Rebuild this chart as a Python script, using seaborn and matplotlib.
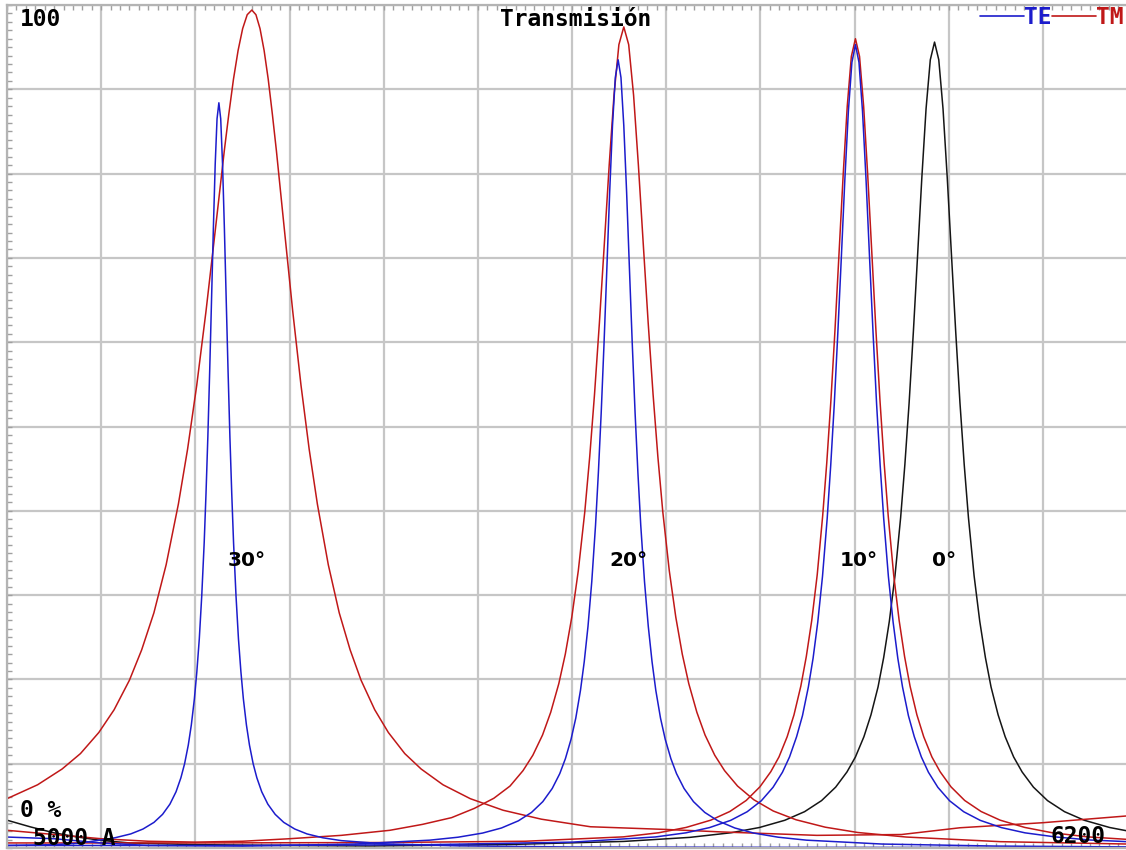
import matplotlib
matplotlib.use("Agg")
import matplotlib.pyplot as plt
import seaborn as sns
import pandas as pd
from matplotlib.ticker import MultipleLocator
from matplotlib.lines import Line2D
from matplotlib.font_manager import FontProperties

# ---------------- data (wavelength in Angstrom, transmission in %) ----------------
wl_30_te = [5000, 5050, 5075, 5095, 5114.5, 5131.4, 5144.4, 5156.1, 5165.2, 5173, 5179.5, 5184.7,
            5188.6, 5192.5, 5195.75, 5199, 5201.6, 5204.2, 5206.8, 5209.4, 5211.35, 5213.3,
            5215.25, 5217.2, 5219.15, 5221.1, 5223.05,
            5225,
            5226.95, 5228.9, 5230.85, 5232.8, 5234.75, 5236.7, 5238.65, 5240.6, 5243.2, 5245.8,
            5248.4, 5251, 5254.25, 5257.5, 5261.4, 5265.3, 5270.5, 5277, 5284.8, 5293.9, 5305.6,
            5318.6, 5335.5, 5355, 5400, 5480, 5600, 5800, 6200]
t_30_te = [0.3, 0.4, 0.55, 0.875, 1.21, 1.67, 2.25, 3.04, 3.99, 5.20, 6.67, 8.34,
           10.0, 12.2, 14.6, 17.7, 20.9, 24.8, 29.9, 36.2, 42.1, 48.8,
           56.6, 65.0, 73.5, 81.1, 86.5,
           88.4,
           86.5, 81.1, 73.5, 65.0, 56.6, 48.8, 42.1, 36.2, 29.9, 24.8,
           20.9, 17.7, 14.6, 12.2, 10.0, 8.34, 6.67, 5.20, 3.99, 3.04, 2.25,
           1.67, 1.21, 0.875, 0.5, 0.25, 0.12, 0.08, 0.05]

wl_30_tm = [5000, 5032.5, 5058.5, 5078, 5097.5, 5113.75, 5130, 5143, 5156, 5169, 5182, 5191.75,
            5201.5, 5211.25, 5221, 5230.75, 5235.6, 5240.5, 5245.4, 5250.25, 5255.1,
            5260,
            5264.35, 5268.7, 5273.05, 5277.4, 5281.75, 5286.1, 5294.8, 5303.5, 5312.2, 5320.9,
            5329.6, 5341.2, 5352.8,
            5364.4, 5376, 5390.5, 5405, 5422.4, 5439.8, 5463, 5492, 5526.8, 5567.4, 5619.6,
            5700, 5760, 5860, 5950, 6012, 6100, 6200]
t_30_tm = [5.85, 7.50, 9.37, 11.2, 13.7, 16.4, 19.9, 23.5, 27.9, 33.6, 40.8, 47.3,
           54.9, 63.6, 73.1, 82.7, 87.1, 91.2, 94.6, 97.2, 98.85,
           99.4,
           98.85, 97.2, 94.6, 91.2, 87.1, 82.7, 73.1, 63.6, 54.9, 47.3,
           40.8, 33.6, 27.9,
           23.5, 19.9, 16.4, 13.7, 11.2, 9.37, 7.50, 5.85, 4.48, 3.42, 2.52,
           2.2, 1.9, 1.5, 1.6, 2.4, 3.0, 3.9]

wl_20_te = [5000, 5050, 5100, 5150, 5250, 5369,
            5449, 5479, 5505, 5525, 5543, 5557, 5569, 5579, 5587, 5593, 5599, 5604, 5609, 5613,
            5617, 5621, 5625, 5628, 5631, 5634, 5637, 5640, 5643, 5646,
            5649,
            5652, 5655, 5658, 5661, 5664, 5667, 5670, 5673, 5677, 5681, 5685, 5689, 5694, 5699,
            5705, 5711, 5719, 5729, 5741, 5755, 5773, 5793, 5819, 5849, 5929, 6049, 6200]
t_20_te = [1.3, 1.1, 0.6, 0.3, 0.22, 0.47,
           0.93, 1.28, 1.77, 2.37, 3.22, 4.22, 5.50, 7.06, 8.82, 10.6, 12.9, 15.4, 18.7, 22.1,
           26.3, 31.6, 38.3, 44.5, 51.6, 59.8, 68.7, 77.8, 85.7, 91.4,
           93.5,
           91.4, 85.7, 77.8, 68.7, 59.8, 51.6, 44.5, 38.3, 31.6, 26.3, 22.1, 18.7, 15.4, 12.9,
           10.6, 8.82, 7.06, 5.50, 4.22, 3.22, 2.37, 1.77, 1.28, 0.93, 0.47, 0.23, 0.12]

wl_20_tm = [5000, 5050, 5100, 5150, 5200, 5250, 5300, 5355,
            5406.6, 5441.1, 5472.1, 5496.3, 5517, 5534.2, 5548, 5558.4, 5568.7, 5577.4, 5586,
            5592.9, 5599.8, 5606.7, 5613.6, 5618.8, 5623.9, 5629.1, 5634.3, 5639.5, 5644.6,
            5649.8,
            5655,
            5660.2, 5665.4, 5670.5, 5675.7, 5680.9, 5686.1, 5691.2, 5696.4, 5703.3, 5710.2,
            5717.1, 5724, 5732.6, 5741.3, 5751.6, 5762, 5775.8, 5793, 5813.7, 5837.9, 5868.9,
            5903.4, 5955, 6055, 6200]
t_20_tm = [2.1, 1.6, 1.1, 0.8, 0.7, 0.8, 1.1, 1.5,
           2.1, 2.8, 3.6, 4.7, 5.9, 7.35, 9.18, 11.0, 13.4, 16.1, 19.5,
           23.0, 27.4, 32.9, 39.9, 46.4, 53.8, 62.3, 71.6, 81.0, 89.3,
           95.3,
           97.4,
           95.3, 89.3, 81.0, 71.6, 62.3, 53.8, 46.4, 39.9, 32.9, 27.4,
           23.0, 19.5, 16.1, 13.4, 11.0, 9.18, 7.35, 5.73, 4.39, 3.35, 2.47,
           1.84, 1.3, 0.75, 0.45]

wl_10_te = [5000, 5250, 5450, 5601,
            5688.5, 5721, 5746, 5768.5, 5786, 5801, 5813.5, 5823.5, 5831, 5838.5, 5844.75, 5851,
            5856, 5861, 5866, 5871, 5874.75, 5878.5, 5882.25, 5886, 5889.75, 5893.5, 5897.25,
            5901,
            5904.75, 5908.5, 5912.25, 5916, 5919.75, 5923.5, 5927.25, 5931, 5936, 5941, 5946,
            5951, 5957.25, 5963.5, 5971, 5978.5, 5988.5, 6001, 6016, 6033.5, 6056, 6081, 6113.5,
            6150, 6200]
t_10_te = [0.3, 0.3, 0.4, 0.7,
           1.31, 1.80, 2.42, 3.28, 4.30, 5.60, 7.20, 8.99, 10.8, 13.2, 15.7, 19.1,
           22.5, 26.8, 32.2, 39.1, 45.4, 52.6, 61.0, 70.0, 79.3, 87.4, 93.2,
           95.3,
           93.2, 87.4, 79.3, 70.0, 61.0, 52.6, 45.4, 39.1, 32.2, 26.8, 22.5,
           19.1, 15.7, 13.2, 10.8, 8.99, 7.20, 5.60, 4.30, 3.28, 2.42, 1.80, 1.31,
           0.95, 0.7]

wl_10_tm = [5000, 5200, 5400, 5550,
            5654.5, 5692.2, 5721.2, 5747.3, 5767.6, 5785, 5799.5, 5811.1, 5819.8, 5828.5,
            5835.75, 5843, 5848.8, 5854.6, 5860.4, 5866.2, 5870.55, 5874.9, 5879.25, 5883.6,
            5887.95, 5892.3, 5896.65,
            5901,
            5905.35, 5909.7, 5914.05, 5918.4, 5922.75, 5927.1, 5931.45, 5935.8, 5941.6, 5947.4,
            5953.2, 5959, 5966.25, 5973.5, 5982.2, 5990.9, 6002.5, 6017, 6034.4, 6054.7, 6080.8,
            6109.8, 6147.5, 6200]
t_10_tm = [0.6, 0.6, 0.65, 0.8,
           1.32, 1.81, 2.44, 3.30, 4.33, 5.64, 7.25, 9.05, 10.8, 13.2,
           15.8, 19.2, 22.7, 27.0, 32.4, 39.4, 45.7, 53.0, 61.4, 70.6,
           79.8, 88.0, 93.9,
           96.0,
           93.9, 88.0, 79.8, 70.6, 61.4, 53.0, 45.7, 39.4, 32.4, 27.0,
           22.7, 19.2, 15.8, 13.2, 10.8, 9.05, 7.25, 5.64, 4.33, 3.30, 2.44,
           1.81, 1.32, 0.95]

wl_0 = [5000, 5025, 5050, 5075, 5100, 5130, 5200, 5300, 5385, 5535, 5655, 5725,
        5769, 5799, 5826, 5847, 5865, 5880, 5892, 5901, 5910, 5917.5, 5925, 5931, 5937, 5943,
        5949, 5953.5, 5958, 5962.5, 5967, 5971.5, 5976, 5980.5,
        5985,
        5989.5, 5994, 5998.5, 6003, 6007.5, 6012, 6016.5, 6021, 6027, 6033, 6039, 6045,
        6052.5, 6060, 6069, 6078, 6090, 6105, 6123, 6144, 6171, 6200]
t_0 = [3.3, 2.5, 1.8, 1.3, 0.9, 0.6, 0.4, 0.3, 0.24, 0.42, 0.78, 1.26,
       1.81, 2.43, 3.29, 4.31, 5.62, 7.22, 9.02, 10.8, 13.2, 15.8, 19.1, 22.6, 26.9, 32.3,
       39.2, 45.5, 52.8, 61.2, 70.3, 79.5, 87.7, 93.5,
       95.6,
       93.5, 87.7, 79.5, 70.3, 61.2, 52.8, 45.5, 39.2, 32.3, 26.9, 22.6, 19.1,
       15.8, 13.2, 10.8, 9.02, 7.22, 5.62, 4.31, 3.29, 2.43, 1.81]

curve_names = ["0°", "30° TM", "20° TM", "10° TM", "30° TE", "20° TE", "10° TE"]
curve_pol = ["none", "TM", "TM", "TM", "TE", "TE", "TE"]
curve_wl = [wl_0, wl_30_tm, wl_20_tm, wl_10_tm, wl_30_te, wl_20_te, wl_10_te]
curve_t = [t_0, t_30_tm, t_20_tm, t_10_tm, t_30_te, t_20_te, t_10_te]

angle_labels = ["30°", "20°", "10°", "0°"]
angle_label_wl = [5234.6, 5640.1, 5884.3, 5982.0]
angle_label_t = [33.4, 33.4, 33.4, 33.4]

legend_labels = ["TE", "TM"]

# ---------------- build long-form table ----------------
rows = []
for name, pol, wls, ts in zip(curve_names, curve_pol, curve_wl, curve_t):
    assert len(wls) == len(ts), name
    for w, t in zip(wls, ts):
        rows.append({"curve": name, "pol": pol, "wl": w, "T": t})
df = pd.DataFrame(rows)

BLUE = "#1c1ccc"
RED = "#c01818"
BLACK = "#151515"
pol_color = {"TE": BLUE, "TM": RED, "none": BLACK}

sns.set_style("white")
plt.rcParams["font.family"] = ["DejaVu Sans"]

W, H = 1126, 850
fig = plt.figure(figsize=(W / 100, H / 100), dpi=100)
fig.patch.set_facecolor("white")
ax = fig.add_axes([7 / W, 2 / H, 1130 / W, 843 / H])

for name in curve_names:
    g = df[df["curve"] == name]
    pol = g["pol"].iloc[0]
    sns.lineplot(data=g, x="wl", y="T", ax=ax, color=pol_color[pol], linewidth=1.1,
                 estimator=None, sort=False, legend=False)

ax.set_xlim(5000, 6200)
ax.set_ylim(0, 100)
ax.set_xlabel("")
ax.set_ylabel("")
ax.xaxis.set_major_locator(MultipleLocator(100))
ax.xaxis.set_minor_locator(MultipleLocator(10))
ax.yaxis.set_major_locator(MultipleLocator(10))
ax.yaxis.set_minor_locator(MultipleLocator(1))
ax.grid(True, which="major", color="#c6c6c6", linewidth=1.6)
ax.set_axisbelow(True)
ax.tick_params(axis="x", which="both", direction="in", top=True, bottom=True,
               labelbottom=False, labeltop=False, length=3.5, width=1, color="#a0a0a0")
ax.tick_params(axis="y", which="both", direction="in", left=True, right=False,
               labelleft=False, labelright=False, length=3.5, width=1, color="#a0a0a0")
for s in ax.spines.values():
    s.set_color("#b4b4b4")
    s.set_linewidth(1.6)

mono = dict(family="DejaVu Sans Mono", weight="bold", size=16.5, color="black")


def px(x, y):
    return x / W, 1 - y / H


fig.text(*px(20, 26), "100", va="baseline", ha="left", **mono)
fig.text(*px(500, 26), "Transmisión", va="baseline", ha="left", **mono)
fig.text(*px(20, 817), "0 %", va="baseline", ha="left", **mono)
fig.text(*px(33, 845), "5000 A", va="baseline", ha="left", **mono)
fig.text(*px(1050, 843), "6200", va="baseline", ha="left", **mono)

for lab, lx, ly in zip(angle_labels, angle_label_wl, angle_label_t):
    ax.text(lx, ly, lab, ha="left", va="baseline", fontsize=14.5, fontweight="bold",
            family="DejaVu Sans", color="black")

handles = [Line2D([], [], color=BLUE, lw=1.2), Line2D([], [], color=RED, lw=1.2)]
leg = fig.legend(handles, legend_labels, loc="center left", bbox_to_anchor=px(980, 18),
                 ncol=2, frameon=False, handlelength=1.9, handletextpad=0.0,
                 columnspacing=0.05, borderpad=0, borderaxespad=0,
                 prop=FontProperties(family="DejaVu Sans Mono", weight="bold", size=16.5))
for txt, c in zip(leg.get_texts(), [BLUE, RED]):
    txt.set_color(c)

fig.savefig("out.png", dpi=100, facecolor="white")
